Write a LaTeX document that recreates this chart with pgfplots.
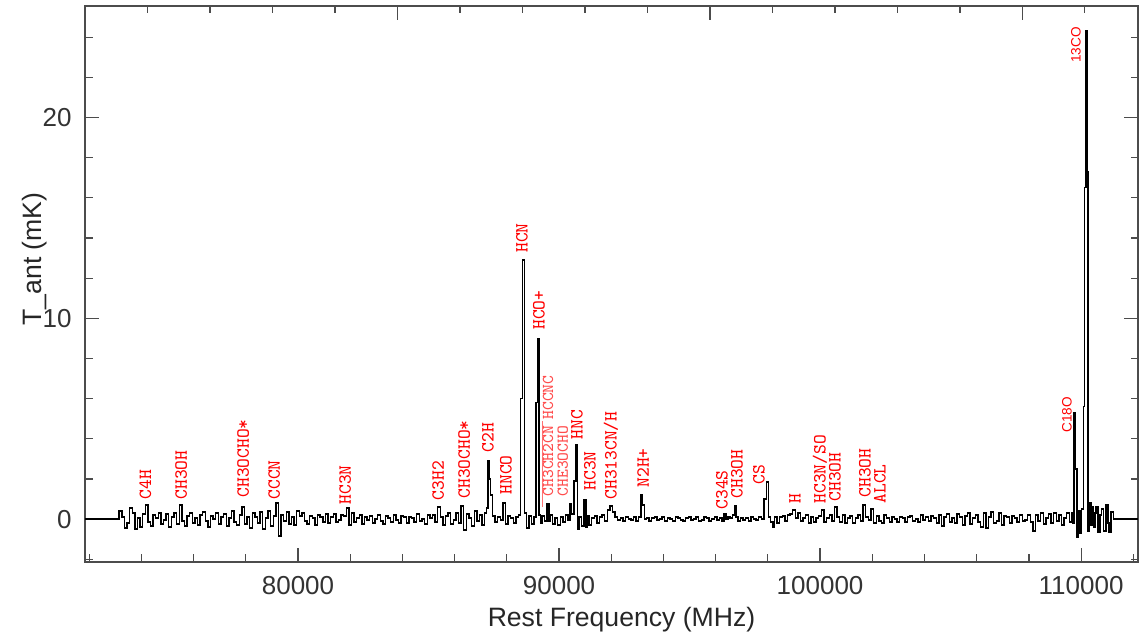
\documentclass[border=0pt]{standalone}
\usepackage{pgfplots}
\pgfplotsset{compat=1.18}
\usepackage{fontspec}
\setmainfont{Liberation Sans}
\tikzset{
  lbl/.style={text=red, rotate=90, anchor=west, inner sep=0pt, font=\ttfamily\fontsize{9.3bp}{10bp}\selectfont},
  slbl/.style={lbl, text=red!70, font=\ttfamily\fontsize{8.3bp}{9bp}\selectfont},
  sans/.style={lbl, font=\fontsize{6.8bp}{8bp}\selectfont}
}
\begin{document}
\begin{tikzpicture}
\begin{axis}[name=main, scale only axis, width=526.5bp, height=277.85bp,
  xmin=71840, xmax=112180, ymin=-2.12, ymax=25.55,
  xtick={80000,90000,100000,110000}, xticklabels={80000,90000,100000,110000},
  minor xtick={72000,74000,...,112000},
  ytick={0,10,20}, yticklabels={0,10,20}, minor ytick={-2,0,...,24},
  xtick pos=bottom, ytick pos=both, scaled x ticks=false,
  tick align=inside,
  major tick length=7bp, minor tick length=3.75bp,
  every tick/.style={black!70, line width=0.6bp},
  axis line style={black!70, line width=0.8bp},
  ticklabel style={font=\fontsize{13bp}{15bp}\selectfont, text=black!80},
  xticklabel style={inner sep=0pt, anchor=north, yshift=-7bp},
  yticklabel style={inner sep=0pt, anchor=east, xshift=-6.5bp},
  xlabel={Rest Frequency (MHz)}, ylabel={T\_ant (mK)},
  label style={font=\fontsize{13.3bp}{15bp}\selectfont, text=black!85},
  xlabel style={at={(rel axis cs:0.5095,-0.081)}, anchor=north, inner sep=0pt},
  ylabel style={at={(rel axis cs:-0.0475,0.5447)}, anchor=center, inner sep=0pt},
  clip=true]
\addplot[const plot mark mid, black, line width=0.7bp] coordinates {
(71840,0) (73100,0)
(73200,0.4) (73300,0.1) (73400,-0.45) (73500,-0.2) (73600,0.55) (73700,0.3) (73800,-0.5) (73900,0.05) (74000,-0.4) (74100,0.25)
(74200,0.7) (74300,-0.15) (74400,-0.35) (74500,0.2) (74600,0.05) (74700,0.3) (74800,-0.25) (74900,-0.05) (75000,0.25) (75100,-0.4)
(75200,0.1) (75300,0.3) (75400,-0.25) (75500,0.7) (75600,-0.1) (75700,-0.35) (75800,0.15) (75900,0.3) (76000,-0.2) (76100,0.05)
(76200,-0.3) (76300,0.2) (76400,0.35) (76500,-0.1) (76600,-0.4) (76700,0.15) (76800,0.0) (76900,0.3) (77000,-0.25) (77100,0.1)
(77200,0.25) (77300,-0.35) (77400,0.05) (77500,0.4) (77600,-0.15) (77700,-0.3) (77800,0.2) (77900,0.6) (78000,-0.25) (78100,0.1)
(78200,-0.45) (78300,0.3) (78400,0.1) (78500,-0.2) (78600,0.35) (78700,-0.5) (78800,0.05) (78900,0.4) (79000,-0.35) (79100,0.15)
(79200,0.8) (79300,-0.85) (79400,0.2) (79500,-0.1) (79600,0.35) (79700,-0.25) (79800,0.1) (79900,-0.3) (80000,0.4) (80100,0.15)
(80200,0.3) (80300,-0.1) (80400,-0.25) (80500,0.15) (80600,0.05) (80700,-0.3) (80800,0.2) (80900,0.1) (81000,-0.15) (81100,0.25)
(81200,-0.2) (81300,0.1) (81400,0.25) (81500,-0.15) (81600,-0.05) (81700,0.2) (81800,0.15) (81900,0.55) (82000,-0.3) (82100,0.3)
(82200,-0.15) (82300,0.05) (82400,0.2) (82500,-0.25) (82600,0.1) (82700,-0.05) (82800,0.15) (82900,-0.2) (83000,0.0) (83100,0.2)
(83200,-0.1) (83300,-0.25) (83400,0.15) (83500,0.05) (83600,-0.15) (83700,0.2) (83800,-0.05) (83900,-0.2) (84000,0.15) (84100,0.1)
(84200,-0.2) (84300,0.1) (84400,0.05) (84500,-0.15) (84600,0.25) (84700,-0.1) (84800,0.0) (84900,-0.25) (85000,0.2) (85100,0.05)
(85200,0.2) (85300,-0.15) (85400,0.6) (85500,0.1) (85600,-0.3) (85700,0.15) (85800,0.3) (85900,-0.25) (86000,-0.05) (86100,0.3)
(86200,-0.2) (86300,0.65) (86400,-0.55) (86500,0.25) (86600,0.05) (86700,-0.35) (86800,0.4) (86900,-0.1) (87000,0.2) (87100,-0.3)
(87200,0.3) (87250,0.55) (87300,2.9) (87350,2.0) (87400,1.2) (87500,0.15) (87600,-0.15) (87700,0.1) (87800,-0.05) (87900,0.8) (88000,-0.25) (88100,0.15)
(88200,0.05) (88300,-0.2) (88400,0.1) (88500,0.2) (88570,6.0) (88640,12.9) (88700,0.3) (88800,-0.45) (88900,0.15) (89000,-0.25) (89080,0.1) (89140,5.8) (89200,9.0) (89260,0.2)
(89300,-0.2) (89400,0.15) (89500,-0.1) (89570,0.75) (89650,-0.1) (89700,0.2) (89800,-0.25) (89900,0.05) (90000,-0.3) (90100,0.1) (90200,-0.15)
(90300,0.2) (90400,-0.05) (90450,0.75) (90520,0.25) (90620,1.9) (90680,3.7) (90740,-0.5) (90800,0.1) (90900,-0.35) (91000,0.95) (91060,-0.4) (91100,0.15)
(91200,-0.3) (91300,0.05) (91400,0.15) (91500,-0.2) (91600,0.1) (91700,0.2) (91800,-0.1) (91900,0.45) (92000,0.65) (92100,0.35)
(92200,0.1) (92300,-0.05) (92400,0.05) (92500,-0.1) (92600,0.1) (92700,0.0) (92800,-0.05) (92900,0.1) (93000,-0.1) (93100,0.1)
(93170,1.2) (93230,0.7) (93300,0.0) (93400,0.05) (93500,-0.1) (93600,0.05) (93700,0.1) (93800,-0.05) (93900,0.0) (94000,0.1) (94100,-0.1)
(94200,0.05) (94300,0.0) (94400,-0.1) (94500,0.1) (94600,0.05) (94700,-0.05) (94800,-0.1) (94900,0.05) (95000,0.1) (95100,-0.05)
(95200,0.0) (95300,0.1) (95400,-0.1) (95500,-0.05) (95600,0.1) (95700,0.05) (95800,-0.1) (95900,0.0) (96000,0.1) (96100,-0.05)
(96200,0.05) (96300,-0.1) (96350,0.25) (96450,0.0) (96500,0.1) (96600,0.05) (96700,0.2) (96750,0.65) (96800,0.1) (96900,-0.1) (97000,0.05) (97100,-0.05)
(97200,0.05) (97300,-0.1) (97400,0.1) (97500,0.0) (97600,-0.05) (97700,0.1) (97800,0.0) (97910,1.0) (97980,1.85) (98050,0.1) (98150,-0.15) (98230,-0.4) (98300,0.1)
(98400,-0.2) (98500,0.1) (98600,0.15) (98700,-0.1) (98800,0.2) (98900,0.25) (99000,0.45) (99100,0.05)
(99200,0.3) (99300,-0.1) (99400,0.05) (99500,0.2) (99600,-0.2) (99700,0.1) (99800,-0.15) (99900,0.05) (100000,0.15) (100100,0.45)
(100200,-0.15) (100300,0.05) (100400,0.2) (100500,-0.1) (100600,0.6) (100700,0.1) (100800,-0.15) (100900,0.2) (101000,-0.2) (101100,0.05)
(101200,0.15) (101300,-0.2) (101400,0.05) (101500,0.2) (101600,-0.1) (101700,0.7) (101800,0.1) (101900,-0.05) (102000,0.5) (102100,-0.2)
(102200,0.15) (102300,-0.1) (102400,-0.2) (102500,0.2) (102600,0.05) (102700,-0.15) (102800,0.1) (102900,0.0) (103000,-0.15) (103100,0.1)
(103200,0.05) (103300,-0.15) (103400,0.1) (103500,0.15) (103600,-0.1) (103700,0.0) (103800,-0.15) (103900,0.2) (104000,-0.05) (104100,0.1)
(104200,-0.1) (104300,0.15) (104400,0.05) (104500,-0.2) (104600,0.2) (104700,-0.35) (104800,0.1) (104900,0.25) (105000,-0.15) (105100,0.05)
(105200,-0.2) (105300,0.25) (105400,0.1) (105500,-0.3) (105600,0.15) (105700,0.3) (105800,-0.25) (105900,0.05) (106000,0.2) (106100,-0.15)
(106200,-0.4) (106300,0.3) (106400,-0.45) (106500,0.1) (106600,0.35) (106700,-0.2) (106800,-0.1) (106900,0.3) (107000,-0.3) (107100,0.15)
(107200,0.1) (107300,-0.2) (107400,0.15) (107500,0.05) (107600,-0.15) (107700,0.2) (107800,-0.1) (107900,-0.05) (108000,0.2) (108100,-0.15)
(108200,-0.6) (108300,0.2) (108400,-0.1) (108500,0.3) (108600,-0.25) (108700,0.05) (108800,0.25) (108900,-0.2) (109000,0.3) (109100,-0.1)
(109200,0.2) (109300,-0.3) (109400,0.05) (109500,0.3) (109600,-0.15) (109650,0.3) (109710,-0.2) (109760,5.3) (109810,2.5) (109870,-0.9) (109930,0.4) (109990,-0.7)
(110050,0.5) (110110,5.6) (110160,16.5) (110200,24.3) (110240,17.3) (110290,-0.6) (110350,0.8) (110400,-0.3) (110450,0.6) (110500,-0.4)
(110550,0.3) (110600,0.6) (110700,-0.65) (110750,0.2) (110800,0.5) (110900,-0.6) (111000,0.7) (111050,-0.2) (111100,-0.65) (111200,0.35) (111260,0) (112180,0)
};
\addplot[red!55, line width=0.4bp] coordinates {(89376,0.6) (89376,4.9)};
\node[lbl] at (axis cs:74155,0.96) {C4H};
\node[lbl] at (axis cs:75523,0.96) {CH3OH};
\node[lbl] at (axis cs:77897,1.06) {CH3OCHO*};
\node[lbl] at (axis cs:79085,0.96) {CCCN};
\node[lbl] at (axis cs:81804,0.71) {HC3N};
\node[lbl] at (axis cs:85366,0.93) {C3H2};
\node[lbl] at (axis cs:86362,1.01) {CH3OCHO*};
\node[lbl] at (axis cs:87281,3.30) {C2H};
\node[lbl] at (axis cs:87970,1.21) {HNCO};
\node[lbl] at (axis cs:88583,13.25) {HCN};
\node[lbl] at (axis cs:89234,9.42) {HCO+};
\node[slbl] at (axis cs:89579,4.94) {HCCNC};
\node[slbl] at (axis cs:89579,1.11) {CH3CH2CN};
\node[slbl] at (axis cs:90142,1.11) {CHE3OCHO};
\node[lbl] at (axis cs:90689,3.95) {HNC};
\node[lbl] at (axis cs:91187,1.41) {HC3N};
\node[lbl] at (axis cs:91992,0.96) {CH313CN/H};
\node[lbl] at (axis cs:93217,1.56) {N2H+};
\node[lbl] at (axis cs:96243,0.46) {C34S};
\node[lbl] at (axis cs:96817,1.01) {CH3OH};
\node[lbl] at (axis cs:97660,1.71) {CS};
\node[lbl] at (axis cs:99039,0.76) {H};
\node[lbl] at (axis cs:99996,0.76) {HC3N/SO};
\node[lbl] at (axis cs:100571,0.86) {CH3OH};
\node[lbl] at (axis cs:101720,1.06) {CH3OH};
\node[lbl] at (axis cs:102294,0.76) {ALCL};
\node[sans] at (axis cs:109456,4.29) {C18O};
\node[sans] at (axis cs:109801,22.7) {13CO};
\end{axis}
\begin{axis}[at={(main.south west)}, anchor=south west, scale only axis,
  width=526.5bp, height=277.85bp,
  xmin=-5, xmax=11.85, ymin=0, ymax=1,
  axis x line*=top, axis y line=none,
  xtick={-5,0,5,10}, minor xtick={-4,...,11}, xticklabels={},
  tick align=inside, major tick length=7bp, minor tick length=3.75bp,
  every tick/.style={black!70, line width=0.6bp},
  axis line style={black!70, line width=0.8bp}]
\end{axis}
\pgfresetboundingbox
\path ([shift={(-42.5bp,-36.15bp)}]main.south west) rectangle ([shift={(2bp,3bp)}]main.north east);
\end{tikzpicture}
\end{document}
